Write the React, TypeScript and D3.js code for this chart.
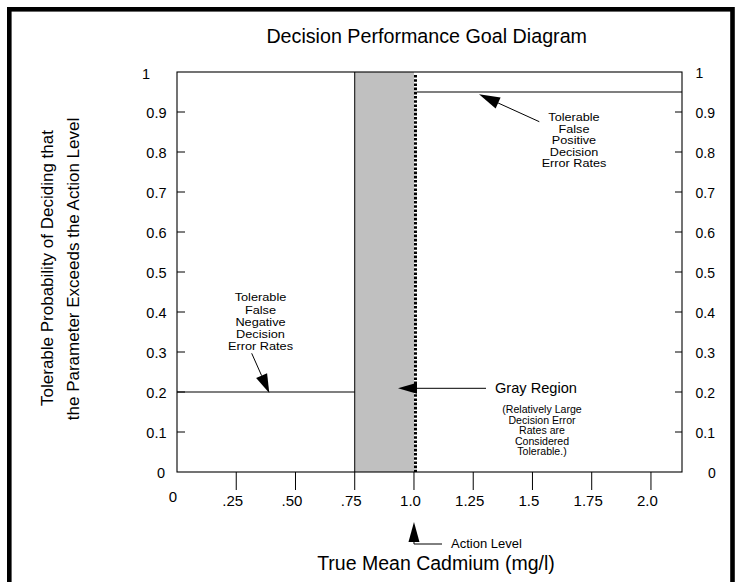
import React from "react";
import * as d3 from "d3";

// ---- data ----
const xTickValues = [0.25, 0.5, 0.75, 1.0, 1.25, 1.5, 1.75, 2.0];
const xTickLabels = [".25", ".50", ".75", "1.0", "1.25", "1.5", "1.75", "2.0"];
const yTickValues = [0, 0.1, 0.2, 0.3, 0.4, 0.5, 0.6, 0.7, 0.8, 0.9, 1];
const yTickLabels = ["0", "0.1", "0.2", "0.3", "0.4", "0.5", "0.6", "0.7", "0.8", "0.9", "1"];
const grayRegion = [0.75, 1.0];
const actionLevel = 1.0;
const falseNegativeLimit = [0, 0.75, 0.2]; // x from, x to, probability
const falsePositiveLimit = [1.0, 2.131, 0.95];
const xDomain = [0, 2.131];
const yDomain = [0, 1];

const negLines = ["Tolerable", "False", "Negative", "Decision", "Error Rates"];
const posLines = ["Tolerable", "False", "Positive", "Decision", "Error Rates"];
const grayNote = ["(Relatively Large", "Decision Error", "Rates are", "Considered", "Tolerable.)"];

const FONT = "'Liberation Sans', Arial, Helvetica, sans-serif";

function Arrow({ x1, y1, x2, y2, len = 20, wid = 12 }: any) {
  const dx = x2 - x1, dy = y2 - y1;
  const L = Math.sqrt(dx * dx + dy * dy);
  const ux = dx / L, uy = dy / L;
  const bx = x2 - ux * len, by = y2 - uy * len;
  const px = -uy * wid / 2, py = ux * wid / 2;
  return (
    <g>
      <line x1={x1} y1={y1} x2={bx} y2={by} stroke="#000" strokeWidth={1} />
      <polygon points={`${x2},${y2} ${bx + px},${by + py} ${bx - px},${by - py}`} fill="#000" />
    </g>
  );
}

function Stack({ lines, cx, y0, dy, size, sx }: any) {
  return (
    <g transform={`translate(${cx},0) scale(${sx},1)`}>
      {lines.map((t: string, i: number) => (
        <text key={i} x={0} y={y0 + i * dy} fontSize={size} textAnchor="middle">{t}</text>
      ))}
    </g>
  );
}

export default function App() {
  const x = d3.scaleLinear().domain(xDomain).range([177, 682]);
  const y = d3.scaleLinear().domain(yDomain).range([472, 72]);
  const x0 = x(xDomain[0]), x1 = x(xDomain[1]);
  const yTop = y(1), yBot = y(0);

  return (
    <svg width={736} height={582} style={{ position: "absolute", left: 0, top: 0 }} fontFamily={FONT}>
      <rect x={0} y={0} width={736} height={582} fill="#fff" />
      {/* outer frame */}
      <rect x={9.3} y={9.3} width={723.2} height={620} fill="none" stroke="#000" strokeWidth={4.6} />

      {/* title */}
      <text x={426.7} y={43} fontSize={19.7} textAnchor="middle">Decision Performance Goal Diagram</text>

      {/* gray region */}
      <rect x={x(grayRegion[0])} y={yTop} width={x(grayRegion[1]) - x(grayRegion[0])} height={yBot - yTop} fill="#c0c0c0" />
      <line x1={x(grayRegion[0])} x2={x(grayRegion[0])} y1={yTop} y2={yBot} stroke="#000" strokeWidth={1} />

      {/* plot frame */}
      <rect x={x0} y={yTop} width={x1 - x0} height={yBot - yTop} fill="none" stroke="#000" strokeWidth={1.1} />

      {/* action level dotted line */}
      <line x1={x(actionLevel) + 1.5} x2={x(actionLevel) + 1.5} y1={yTop + 3} y2={yBot} stroke="#000" strokeWidth={3} strokeDasharray="2.6,1.6" />

      {/* limit lines */}
      <line x1={x(falseNegativeLimit[0])} x2={x(falseNegativeLimit[1])} y1={y(falseNegativeLimit[2])} y2={y(falseNegativeLimit[2])} stroke="#000" strokeWidth={1.1} />
      <line x1={x(falsePositiveLimit[0]) + 3} x2={x(falsePositiveLimit[1])} y1={y(falsePositiveLimit[2])} y2={y(falsePositiveLimit[2])} stroke="#000" strokeWidth={1.1} />

      {/* left y ticks & labels */}
      {yTickValues.map((v, i) => (
        <g key={"yl" + i}>
          {v > 0 && v < 1 && <line x1={x0} x2={x0 + 8} y1={y(v)} y2={y(v)} stroke="#000" strokeWidth={1} />}
          {v === 1 ? (
            <text x={142} y={y(v) + 7} fontSize={14.5} textAnchor="start">{yTickLabels[i]}</text>
          ) : (
            <text x={v === 0 ? 165 : 166.5} y={y(v) + 5.5} fontSize={14.5} textAnchor="end">{yTickLabels[i]}</text>
          )}
        </g>
      ))}
      {/* right y ticks & labels */}
      {yTickValues.map((v, i) => (
        <g key={"yr" + i}>
          {v > 0 && v < 1 && <line x1={x1 - 7} x2={x1} y1={y(v)} y2={y(v)} stroke="#000" strokeWidth={1} />}
          {v === 0 ? (
            <text x={712} y={y(v) + 5.5} fontSize={14} textAnchor="middle">{yTickLabels[i]}</text>
          ) : (
            <text x={695.5} y={y(v) + 6} fontSize={14} textAnchor="start">{yTickLabels[i]}</text>
          )}
        </g>
      ))}

      {/* x ticks & labels */}
      {xTickValues.map((v, i) => (
        <g key={"x" + i}>
          <line x1={x(v)} x2={x(v)} y1={yBot} y2={yBot + 18} stroke="#000" strokeWidth={1} />
          <text x={x(v) - 3.5} y={506} fontSize={15} textAnchor="middle">{xTickLabels[i]}</text>
        </g>
      ))}
      <text x={x(0) - 4} y={502} fontSize={15} textAnchor="middle">0</text>

      {/* axis titles */}
      <text x={436} y={570} fontSize={19.5} textAnchor="middle">True Mean Cadmium (mg/l)</text>
      <text transform="translate(53,268) rotate(-90)" fontSize={17} textAnchor="middle">Tolerable Probability of Deciding that</text>
      <text transform="translate(79,269) rotate(-90)" fontSize={17} textAnchor="middle">the Parameter Exceeds the Action Level</text>

      {/* false negative annotation */}
      <Stack lines={negLines} cx={260.5} y0={301.5} dy={12.1} size={11.8} sx={1.08} />
      <Arrow x1={251.7} y1={353.3} x2={269.3} y2={393} len={19} wid={12} />

      {/* false positive annotation */}
      <Stack lines={posLines} cx={574} y0={121} dy={11.6} size={11.2} sx={1.13} />
      <Arrow x1={539.3} y1={121.7} x2={479} y2={94.3} len={21} wid={12} />

      {/* gray region annotation */}
      <text x={495} y={393} fontSize={14.6} textAnchor="start">Gray Region</text>
      <Arrow x1={486} y1={388.3} x2={398} y2={388.3} len={19} wid={11} />
      <Stack lines={grayNote} cx={542} y0={413.3} dy={10.5} size={10} sx={1.06} />

      {/* action level */}
      <Arrow x1={x(actionLevel)} y1={544} x2={x(actionLevel)} y2={522} len={20} wid={11} />
      <line x1={x(actionLevel)} x2={442} y1={544} y2={544} stroke="#000" strokeWidth={1} />
      <text x={451} y={547.7} fontSize={13} textAnchor="start">Action Level</text>
    </svg>
  );
}
